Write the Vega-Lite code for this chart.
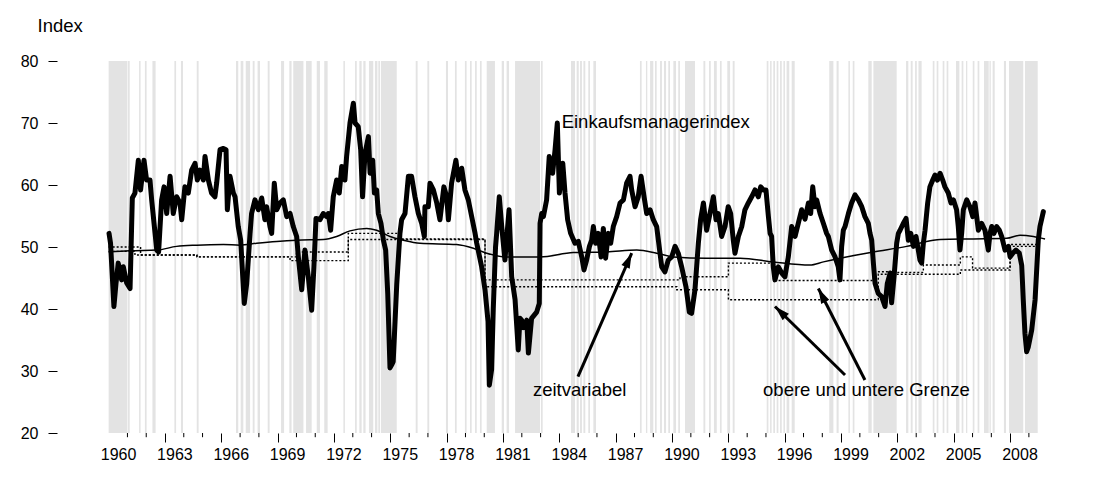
{
"$schema": "https://vega.github.io/schema/vega-lite/v6.json",
"autosize": "none",
"width": 1050,
"height": 372,
"padding": {"left": 48, "top": 61, "right": 5, "bottom": 46},
"background": "white",
"config": {"view": {"stroke": null}, "font": "Liberation Sans"},
"datasets": {
"bands": [{"s":1960.0,"e":1961.0},{"s":1961.03,"e":1961.12},{"s":1961.62,"e":1961.70},{"s":1961.93,"e":1962.02},{"s":1962.33,"e":1962.50},{"s":1963.50,"e":1963.59},{"s":1963.85,"e":1963.96},{"s":1964.69,"e":1964.79},{"s":1966.78,"e":1966.90},{"s":1967.03,"e":1967.17},{"s":1967.30,"e":1967.53},{"s":1967.67,"e":1967.77},{"s":1967.93,"e":1968.06},{"s":1968.47,"e":1968.57},{"s":1969.18,"e":1969.34},{"s":1969.62,"e":1969.74},{"s":1969.83,"e":1970.37},{"s":1970.51,"e":1970.81},{"s":1971.08,"e":1971.25},{"s":1971.48,"e":1971.66},{"s":1972.50,"e":1972.58},{"s":1973.12,"e":1973.21},{"s":1973.35,"e":1973.47},{"s":1973.56,"e":1973.68},{"s":1973.86,"e":1974.09},{"s":1974.18,"e":1974.31},{"s":1974.36,"e":1974.45},{"s":1974.50,"e":1975.34},{"s":1976.35,"e":1976.45},{"s":1976.97,"e":1977.07},{"s":1977.96,"e":1978.07},{"s":1978.44,"e":1978.53},{"s":1978.97,"e":1979.06},{"s":1979.24,"e":1979.33},{"s":1979.51,"e":1979.60},{"s":1979.77,"e":1979.86},{"s":1980.13,"e":1980.57},{"s":1980.93,"e":1981.05},{"s":1981.19,"e":1981.32},{"s":1981.64,"e":1982.97},{"s":1983.02,"e":1983.11},{"s":1984.62,"e":1984.83},{"s":1984.92,"e":1985.03},{"s":1985.10,"e":1985.20},{"s":1985.28,"e":1985.38},{"s":1985.54,"e":1985.63},{"s":1985.81,"e":1985.95},{"s":1988.29,"e":1988.38},{"s":1988.61,"e":1988.68},{"s":1988.83,"e":1989.0},{"s":1989.09,"e":1989.18},{"s":1989.36,"e":1989.46},{"s":1989.57,"e":1989.68},{"s":1989.80,"e":1989.89},{"s":1990.07,"e":1990.21},{"s":1990.33,"e":1990.42},{"s":1990.69,"e":1991.22},{"s":1991.67,"e":1991.77},{"s":1991.97,"e":1992.06},{"s":1992.23,"e":1992.38},{"s":1992.55,"e":1992.64},{"s":1992.94,"e":1993.09},{"s":1993.23,"e":1993.33},{"s":1995.04,"e":1995.13},{"s":1995.22,"e":1995.30},{"s":1995.39,"e":1995.48},{"s":1995.57,"e":1995.66},{"s":1995.75,"e":1995.84},{"s":1995.93,"e":1996.01},{"s":1996.10,"e":1996.24},{"s":1996.37,"e":1996.53},{"s":1998.37,"e":1998.59},{"s":1998.76,"e":1998.87},{"s":1999.39,"e":1999.47},{"s":1999.62,"e":1999.71},{"s":2000.45,"e":2000.63},{"s":2000.72,"e":2001.96},{"s":2002.46,"e":2002.58},{"s":2002.71,"e":2002.81},{"s":2002.94,"e":2003.03},{"s":2003.12,"e":2003.29},{"s":2003.88,"e":2003.97},{"s":2004.09,"e":2004.18},{"s":2004.41,"e":2004.50},{"s":2004.62,"e":2004.71},{"s":2005.12,"e":2005.30},{"s":2005.42,"e":2005.51},{"s":2005.65,"e":2005.72},{"s":2006.01,"e":2006.10},{"s":2006.27,"e":2006.36},{"s":2006.61,"e":2006.86},{"s":2006.90,"e":2006.97},{"s":2007.07,"e":2007.18},{"s":2007.67,"e":2007.78},{"s":2007.94,"e":2008.70},{"s":2008.79,"e":2009.47}],
"minor": [{"t":1961},{"t":1962},{"t":1964},{"t":1965},{"t":1967},{"t":1968},{"t":1970},{"t":1971},{"t":1973},{"t":1974},{"t":1976},{"t":1977},{"t":1979},{"t":1980},{"t":1982},{"t":1983},{"t":1985},{"t":1986},{"t":1988},{"t":1989},{"t":1991},{"t":1992},{"t":1994},{"t":1995},{"t":1997},{"t":1998},{"t":2000},{"t":2001},{"t":2003},{"t":2004},{"t":2006},{"t":2007},{"t":2009}],
"pmi": [{"t":1960.02,"v":52.2},{"t":1960.10,"v":50.6},{"t":1960.28,"v":40.4},{"t":1960.39,"v":44.1},{"t":1960.51,"v":47.4},{"t":1960.69,"v":44.7},{"t":1960.78,"v":46.8},{"t":1960.96,"v":44.2},{"t":1961.14,"v":43.3},{"t":1961.26,"v":57.9},{"t":1961.40,"v":58.7},{"t":1961.58,"v":64.0},{"t":1961.70,"v":59.2},{"t":1961.88,"v":64.0},{"t":1962.02,"v":60.8},{"t":1962.20,"v":60.8},{"t":1962.29,"v":57.6},{"t":1962.47,"v":52.2},{"t":1962.56,"v":49.5},{"t":1962.66,"v":49.2},{"t":1962.82,"v":57.6},{"t":1962.95,"v":59.7},{"t":1963.09,"v":55.4},{"t":1963.27,"v":61.4},{"t":1963.44,"v":55.4},{"t":1963.62,"v":58.1},{"t":1963.80,"v":57.1},{"t":1963.89,"v":54.4},{"t":1964.06,"v":59.7},{"t":1964.24,"v":58.7},{"t":1964.42,"v":62.4},{"t":1964.60,"v":63.5},{"t":1964.72,"v":60.8},{"t":1964.86,"v":62.4},{"t":1965.04,"v":60.8},{"t":1965.13,"v":64.6},{"t":1965.31,"v":60.8},{"t":1965.48,"v":58.7},{"t":1965.66,"v":58.1},{"t":1965.75,"v":60.3},{"t":1965.93,"v":65.7},{"t":1966.11,"v":65.9},{"t":1966.25,"v":65.7},{"t":1966.32,"v":56.0},{"t":1966.46,"v":61.4},{"t":1966.64,"v":58.7},{"t":1966.73,"v":58.1},{"t":1966.90,"v":53.3},{"t":1967.03,"v":51.1},{"t":1967.22,"v":40.9},{"t":1967.35,"v":44.1},{"t":1967.53,"v":52.2},{"t":1967.61,"v":55.4},{"t":1967.79,"v":57.6},{"t":1967.97,"v":56.0},{"t":1968.15,"v":57.9},{"t":1968.32,"v":54.4},{"t":1968.41,"v":56.5},{"t":1968.59,"v":53.3},{"t":1968.68,"v":52.2},{"t":1968.82,"v":60.3},{"t":1968.95,"v":56.0},{"t":1969.12,"v":57.1},{"t":1969.30,"v":57.6},{"t":1969.48,"v":54.9},{"t":1969.66,"v":55.4},{"t":1969.83,"v":53.3},{"t":1970.01,"v":51.7},{"t":1970.10,"v":48.4},{"t":1970.28,"v":43.1},{"t":1970.45,"v":49.5},{"t":1970.63,"v":45.2},{"t":1970.81,"v":39.8},{"t":1970.93,"v":46.8},{"t":1971.04,"v":54.6},{"t":1971.25,"v":54.4},{"t":1971.43,"v":55.4},{"t":1971.61,"v":54.9},{"t":1971.70,"v":55.4},{"t":1971.82,"v":52.7},{"t":1971.96,"v":58.1},{"t":1972.14,"v":60.8},{"t":1972.28,"v":58.7},{"t":1972.41,"v":63.0},{"t":1972.58,"v":60.8},{"t":1972.67,"v":64.6},{"t":1972.85,"v":70.0},{"t":1973.03,"v":73.2},{"t":1973.12,"v":70.0},{"t":1973.29,"v":69.4},{"t":1973.42,"v":65.7},{"t":1973.52,"v":58.1},{"t":1973.65,"v":65.1},{"t":1973.83,"v":67.8},{"t":1973.92,"v":61.9},{"t":1974.06,"v":64.0},{"t":1974.15,"v":58.7},{"t":1974.27,"v":59.2},{"t":1974.36,"v":55.4},{"t":1974.50,"v":53.8},{"t":1974.63,"v":51.1},{"t":1974.75,"v":49.5},{"t":1974.86,"v":42.5},{"t":1974.98,"v":30.5},{"t":1975.07,"v":31.0},{"t":1975.15,"v":31.5},{"t":1975.22,"v":36.0},{"t":1975.34,"v":44.0},{"t":1975.51,"v":52.2},{"t":1975.60,"v":54.4},{"t":1975.78,"v":55.4},{"t":1975.96,"v":61.4},{"t":1976.13,"v":61.4},{"t":1976.31,"v":58.1},{"t":1976.49,"v":55.4},{"t":1976.67,"v":53.8},{"t":1976.81,"v":51.7},{"t":1976.84,"v":56.5},{"t":1977.02,"v":56.5},{"t":1977.11,"v":60.3},{"t":1977.29,"v":59.2},{"t":1977.47,"v":57.1},{"t":1977.64,"v":54.4},{"t":1977.85,"v":59.7},{"t":1978.00,"v":58.1},{"t":1978.09,"v":54.4},{"t":1978.26,"v":60.3},{"t":1978.49,"v":64.0},{"t":1978.62,"v":60.8},{"t":1978.80,"v":62.7},{"t":1978.97,"v":59.2},{"t":1979.15,"v":57.6},{"t":1979.33,"v":54.9},{"t":1979.51,"v":52.2},{"t":1979.60,"v":50.6},{"t":1979.86,"v":46.8},{"t":1980.04,"v":43.1},{"t":1980.20,"v":38.0},{"t":1980.27,"v":27.7},{"t":1980.39,"v":30.2},{"t":1980.48,"v":40.0},{"t":1980.60,"v":50.0},{"t":1980.66,"v":52.2},{"t":1980.80,"v":58.1},{"t":1980.93,"v":53.3},{"t":1981.10,"v":47.9},{"t":1981.32,"v":56.0},{"t":1981.46,"v":45.2},{"t":1981.64,"v":41.5},{"t":1981.81,"v":33.4},{"t":1981.90,"v":38.5},{"t":1981.99,"v":38.2},{"t":1982.08,"v":37.0},{"t":1982.26,"v":38.2},{"t":1982.35,"v":32.9},{"t":1982.52,"v":38.5},{"t":1982.79,"v":39.5},{"t":1982.93,"v":40.9},{"t":1982.97,"v":53.8},{"t":1983.06,"v":55.4},{"t":1983.15,"v":54.9},{"t":1983.32,"v":57.6},{"t":1983.46,"v":64.6},{"t":1983.64,"v":61.9},{"t":1983.77,"v":65.7},{"t":1983.89,"v":70.0},{"t":1984.00,"v":58.7},{"t":1984.18,"v":63.5},{"t":1984.30,"v":58.7},{"t":1984.44,"v":54.4},{"t":1984.60,"v":52.2},{"t":1984.83,"v":50.6},{"t":1985.01,"v":50.9},{"t":1985.19,"v":48.4},{"t":1985.31,"v":46.3},{"t":1985.45,"v":47.9},{"t":1985.60,"v":50.1},{"t":1985.72,"v":51.1},{"t":1985.81,"v":53.3},{"t":1985.93,"v":50.6},{"t":1986.07,"v":52.2},{"t":1986.22,"v":48.4},{"t":1986.34,"v":53.0},{"t":1986.46,"v":48.2},{"t":1986.61,"v":52.2},{"t":1986.73,"v":50.6},{"t":1986.87,"v":53.3},{"t":1987.05,"v":54.9},{"t":1987.23,"v":57.1},{"t":1987.41,"v":57.6},{"t":1987.58,"v":60.3},{"t":1987.76,"v":61.4},{"t":1987.85,"v":59.2},{"t":1988.03,"v":56.5},{"t":1988.20,"v":58.1},{"t":1988.35,"v":61.4},{"t":1988.51,"v":58.1},{"t":1988.65,"v":55.4},{"t":1988.83,"v":56.0},{"t":1989.00,"v":54.4},{"t":1989.18,"v":53.3},{"t":1989.27,"v":51.1},{"t":1989.45,"v":46.8},{"t":1989.62,"v":46.0},{"t":1989.80,"v":47.9},{"t":1989.98,"v":48.4},{"t":1990.16,"v":50.1},{"t":1990.33,"v":49.0},{"t":1990.51,"v":46.8},{"t":1990.74,"v":43.6},{"t":1990.92,"v":39.5},{"t":1991.04,"v":39.3},{"t":1991.22,"v":43.1},{"t":1991.40,"v":50.6},{"t":1991.52,"v":54.4},{"t":1991.67,"v":57.1},{"t":1991.84,"v":52.7},{"t":1992.02,"v":55.4},{"t":1992.20,"v":58.1},{"t":1992.34,"v":54.4},{"t":1992.46,"v":55.4},{"t":1992.64,"v":51.7},{"t":1992.82,"v":53.3},{"t":1992.99,"v":56.5},{"t":1993.12,"v":55.4},{"t":1993.26,"v":51.1},{"t":1993.35,"v":49.0},{"t":1993.53,"v":51.7},{"t":1993.71,"v":53.3},{"t":1993.88,"v":56.0},{"t":1994.06,"v":57.1},{"t":1994.24,"v":58.1},{"t":1994.42,"v":59.2},{"t":1994.59,"v":58.1},{"t":1994.72,"v":59.7},{"t":1994.86,"v":59.2},{"t":1995.00,"v":59.2},{"t":1995.13,"v":54.9},{"t":1995.22,"v":52.2},{"t":1995.30,"v":51.7},{"t":1995.39,"v":46.8},{"t":1995.48,"v":44.7},{"t":1995.66,"v":46.8},{"t":1995.84,"v":45.8},{"t":1996.01,"v":45.2},{"t":1996.19,"v":48.4},{"t":1996.37,"v":53.3},{"t":1996.55,"v":51.7},{"t":1996.72,"v":53.8},{"t":1996.90,"v":56.0},{"t":1997.08,"v":54.5},{"t":1997.26,"v":57.1},{"t":1997.38,"v":55.4},{"t":1997.49,"v":59.7},{"t":1997.61,"v":56.5},{"t":1997.70,"v":57.6},{"t":1997.88,"v":55.4},{"t":1998.06,"v":53.8},{"t":1998.23,"v":52.2},{"t":1998.32,"v":51.7},{"t":1998.50,"v":49.5},{"t":1998.68,"v":48.4},{"t":1998.85,"v":46.8},{"t":1998.94,"v":44.7},{"t":1999.03,"v":50.1},{"t":1999.12,"v":52.7},{"t":1999.21,"v":53.3},{"t":1999.39,"v":55.4},{"t":1999.56,"v":57.1},{"t":1999.74,"v":58.4},{"t":1999.92,"v":57.6},{"t":2000.10,"v":56.5},{"t":2000.27,"v":54.9},{"t":2000.45,"v":53.8},{"t":2000.54,"v":52.2},{"t":2000.63,"v":51.1},{"t":2000.72,"v":47.4},{"t":2000.81,"v":44.1},{"t":2000.98,"v":42.5},{"t":2001.16,"v":42.0},{"t":2001.34,"v":40.4},{"t":2001.46,"v":44.1},{"t":2001.61,"v":45.8},{"t":2001.69,"v":41.0},{"t":2001.82,"v":45.2},{"t":2001.96,"v":50.6},{"t":2002.05,"v":52.2},{"t":2002.14,"v":52.7},{"t":2002.31,"v":53.8},{"t":2002.46,"v":54.6},{"t":2002.58,"v":51.1},{"t":2002.71,"v":52.2},{"t":2002.85,"v":50.1},{"t":2002.99,"v":51.7},{"t":2003.20,"v":47.9},{"t":2003.29,"v":47.4},{"t":2003.38,"v":50.6},{"t":2003.47,"v":52.7},{"t":2003.61,"v":57.1},{"t":2003.73,"v":59.7},{"t":2003.88,"v":60.8},{"t":2004.00,"v":61.6},{"t":2004.13,"v":60.8},{"t":2004.27,"v":61.9},{"t":2004.41,"v":60.8},{"t":2004.53,"v":59.7},{"t":2004.71,"v":58.7},{"t":2004.85,"v":57.1},{"t":2004.98,"v":57.6},{"t":2005.15,"v":56.0},{"t":2005.24,"v":53.3},{"t":2005.33,"v":49.5},{"t":2005.42,"v":52.2},{"t":2005.51,"v":56.0},{"t":2005.69,"v":57.6},{"t":2005.86,"v":56.5},{"t":2006.01,"v":54.9},{"t":2006.13,"v":57.1},{"t":2006.22,"v":54.9},{"t":2006.31,"v":52.7},{"t":2006.49,"v":53.8},{"t":2006.66,"v":52.7},{"t":2006.84,"v":49.5},{"t":2006.93,"v":52.2},{"t":2007.02,"v":53.3},{"t":2007.14,"v":52.2},{"t":2007.28,"v":53.3},{"t":2007.43,"v":52.7},{"t":2007.55,"v":51.7},{"t":2007.73,"v":49.5},{"t":2007.91,"v":50.1},{"t":2008.00,"v":48.4},{"t":2008.14,"v":49.0},{"t":2008.31,"v":49.5},{"t":2008.49,"v":49.0},{"t":2008.62,"v":47.0},{"t":2008.70,"v":41.5},{"t":2008.79,"v":36.1},{"t":2008.88,"v":33.1},{"t":2008.97,"v":33.9},{"t":2009.15,"v":36.6},{"t":2009.33,"v":41.5},{"t":2009.50,"v":51.1},{"t":2009.59,"v":53.3},{"t":2009.77,"v":55.7}],
"zeit": [{"t":1960.0,"v":49.2},{"t":1961.1,"v":49.4},{"t":1962.56,"v":49.5},{"t":1963.62,"v":50.1},{"t":1964.69,"v":50.3},{"t":1966.11,"v":50.4},{"t":1966.99,"v":50.3},{"t":1967.88,"v":50.6},{"t":1968.95,"v":50.9},{"t":1970.01,"v":51.1},{"t":1971.43,"v":51.2},{"t":1972.14,"v":51.7},{"t":1972.85,"v":52.6},{"t":1973.74,"v":53.0},{"t":1974.27,"v":52.7},{"t":1974.98,"v":51.7},{"t":1975.69,"v":51.1},{"t":1976.58,"v":50.6},{"t":1978.53,"v":50.4},{"t":1979.42,"v":49.8},{"t":1980.13,"v":49.0},{"t":1981.19,"v":48.4},{"t":1982.97,"v":48.4},{"t":1984.74,"v":49.1},{"t":1986.52,"v":49.2},{"t":1988.12,"v":49.5},{"t":1989.18,"v":49.0},{"t":1990.07,"v":48.4},{"t":1991.84,"v":48.2},{"t":1993.62,"v":48.2},{"t":1995.39,"v":47.6},{"t":1997.34,"v":47.1},{"t":1998.06,"v":47.6},{"t":1999.83,"v":48.7},{"t":2000.72,"v":49.2},{"t":2002.49,"v":50.1},{"t":2003.91,"v":51.1},{"t":2004.27,"v":51.2},{"t":2006.04,"v":51.3},{"t":2007.82,"v":51.4},{"t":2008.53,"v":51.9},{"t":2009.24,"v":51.7},{"t":2009.86,"v":51.3}],
"grenzen": [{"g":"oben","t":1960.0,"v":50.0},{"g":"oben","t":1961.7,"v":48.7},{"g":"oben","t":1964.7,"v":48.4},{"g":"oben","t":1970.0,"v":49.2},{"g":"oben","t":1972.76,"v":52.2},{"g":"oben","t":1975.51,"v":51.3},{"g":"oben","t":1980.04,"v":44.7},{"g":"oben","t":1990.42,"v":45.2},{"g":"oben","t":1993.0,"v":47.4},{"g":"oben","t":1995.4,"v":44.6},{"g":"oben","t":2000.72,"v":46.0},{"g":"oben","t":2001.6,"v":45.9},{"g":"oben","t":2003.38,"v":47.1},{"g":"oben","t":2005.35,"v":48.4},{"g":"oben","t":2006.0,"v":46.6},{"g":"oben","t":2008.0,"v":50.4},{"g":"oben","t":2009.5,"v":50.4},
{"g":"unten","t":1960.0,"v":49.3},{"g":"unten","t":1961.4,"v":48.7},{"g":"unten","t":1964.7,"v":48.4},{"g":"unten","t":1969.66,"v":47.8},{"g":"unten","t":1972.76,"v":51.2},{"g":"unten","t":1980.04,"v":43.6},{"g":"unten","t":1990.25,"v":43.1},{"g":"unten","t":1993.0,"v":41.5},{"g":"unten","t":2000.98,"v":45.6},{"g":"unten","t":2005.35,"v":46.3},{"g":"unten","t":2008.0,"v":50.1},{"g":"unten","t":2009.5,"v":50.1}],
"arrows": [{"x1":1984.99,"y1":29.1,"x2":1987.85,"y2":49.0,"ang":24},{"x1":1999.21,"y1":29.35,"x2":1995.48,"y2":40.4,"ang":314},{"x1":2000.27,"y1":28.55,"x2":1997.79,"y2":43.3,"ang":333}]
},
"layer": [
{"data": {"name": "bands"}, "mark": {"type": "rect", "color": "#e3e3e3"},
 "encoding": {
  "x": {"field": "s", "type": "quantitative", "scale": {"domain": [1956.77, 2012.68], "nice": false, "zero": false},
   "axis": {"values": [1960,1963,1966,1969,1972,1975,1978,1981,1984,1987,1990,1993,1996,1999,2002,2005,2008],
    "title": null, "domain": false, "grid": false, "format": "d",
    "tickColor": "black", "tickWidth": 1, "tickSize": 9,
    "tickOpacity": {"condition": {"test": "datum.value == 1960", "value": 0}, "value": 1},
    "labelFontSize": 16, "labelColor": "black", "labelFont": "Liberation Sans",
    "labelOffset": 9.4, "labelPadding": 4, "labelOverlap": false, "labelBound": false, "labelFlush": false}},
  "x2": {"field": "e"},
  "y": {"datum": 20, "type": "quantitative", "scale": {"domain": [20, 80], "nice": false, "zero": false},
   "axis": {"values": [20,30,40,50,60,70,80], "title": "Index", "titleAngle": 0, "titleAlign": "left", "titleBaseline": "middle", "titleX": -20, "titleY": -36, "titleFontSize": 18.5, "titleFontWeight": "normal", "titleFont": "Liberation Sans", "titleColor": "black",
    "domain": false, "grid": false, "offset": -9, "tickSize": 9, "tickColor": "black", "tickWidth": 1,
    "labelFontSize": 16, "labelColor": "black", "labelFont": "Liberation Sans", "labelPadding": 10}},
  "y2": {"datum": 80}
 }},
{"data": {"name": "minor"}, "mark": {"type": "rule", "color": "black", "strokeWidth": 1},
 "encoding": {"x": {"field": "t", "type": "quantitative"}, "y": {"datum": 20, "type": "quantitative"}, "y2": {"datum": 19.32}}},
{"mark": {"type": "rule", "color": "#555555", "strokeWidth": 1.2}, "encoding": {"y": {"datum": 50, "type": "quantitative"}}},
{"data": {"name": "grenzen"}, "mark": {"type": "line", "interpolate": "step-after", "color": "black", "strokeWidth": 1.4, "strokeDash": [2, 2]},
 "encoding": {"x": {"field": "t", "type": "quantitative"}, "y": {"field": "v", "type": "quantitative"}, "detail": {"field": "g"}}},
{"data": {"name": "zeit"}, "mark": {"type": "line", "interpolate": "monotone", "color": "black", "strokeWidth": 1.5},
 "encoding": {"x": {"field": "t", "type": "quantitative"}, "y": {"field": "v", "type": "quantitative"}}},
{"data": {"name": "pmi"}, "mark": {"type": "line", "color": "black", "strokeWidth": 5, "strokeJoin": "round", "strokeCap": "round"},
 "encoding": {"x": {"field": "t", "type": "quantitative"}, "y": {"field": "v", "type": "quantitative"}}},
{"data": {"values": [{"t": 1984.12, "v": 70.2, "label": "Einkaufsmanagerindex"}]}, "mark": {"type": "text", "align": "left", "baseline": "middle", "fontSize": 18.5, "font": "Liberation Sans", "color": "black"},
 "encoding": {"x": {"field": "t", "type": "quantitative"}, "y": {"field": "v", "type": "quantitative"}, "text": {"field": "label"}}},
{"data": {"values": [{"t": 1985.08, "v": 26.9, "label": "zeitvariabel"}, {"t": 2000.35, "v": 26.9, "label": "obere und untere Grenze"}]}, "mark": {"type": "text", "align": "center", "baseline": "middle", "fontSize": 18.5, "font": "Liberation Sans", "color": "black"},
 "encoding": {"x": {"field": "t", "type": "quantitative"}, "y": {"field": "v", "type": "quantitative"}, "text": {"field": "label"}}},
{"data": {"name": "arrows"}, "mark": {"type": "rule", "color": "black", "strokeWidth": 3},
 "encoding": {"x": {"field": "x1", "type": "quantitative"}, "y": {"field": "y1", "type": "quantitative"}, "x2": {"field": "x2"}, "y2": {"field": "y2"}}},
{"data": {"name": "arrows"}, "mark": {"type": "point", "shape": "M0,0L-0.45,1.5L0.45,1.5Z", "filled": true, "color": "black", "opacity": 1, "size": 400},
 "encoding": {"x": {"field": "x2", "type": "quantitative"}, "y": {"field": "y2", "type": "quantitative"}, "angle": {"field": "ang", "type": "quantitative", "scale": null}}}
]
}
